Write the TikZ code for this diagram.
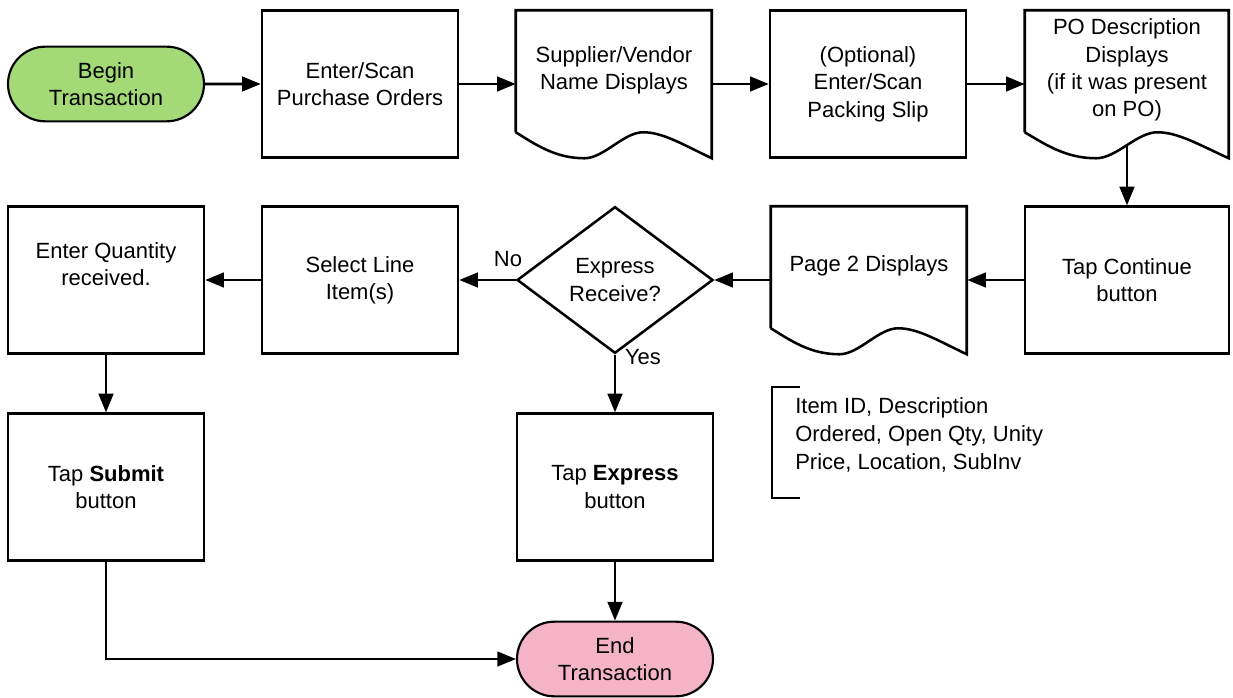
\documentclass[tikz,border=0pt]{standalone}
\usepackage{fontspec}
\setmainfont{Liberation Sans}
\usetikzlibrary{arrows.meta,shapes.geometric,shapes.misc}

\definecolor{beginfill}{HTML}{A3D977}
\definecolor{endfill}{HTML}{F4B3C7}

\tikzset{
  flowfont/.style={font=\fontsize{16.5}{20.5}\selectfont},
  procbox/.style={draw, line width=1.9pt, minimum width=147pt, minimum height=110pt, inner sep=0pt, align=center, flowfont},
  docbox/.style={minimum width=147pt, minimum height=111pt, inner sep=0pt},
  terminal/.style={draw, rounded rectangle, line width=1.6pt, minimum width=147pt, minimum height=56pt, inner sep=0pt, align=center, flowfont},
  decision/.style={draw, diamond, line width=1.9pt, minimum width=147pt, minimum height=110pt, inner sep=0pt, aspect=1.33, align=center, flowfont},
  txt/.style={align=center, inner sep=0pt, flowfont},
  lbl/.style={inner sep=0pt, flowfont},
  flow/.style={line width=1.9pt, -{Triangle[length=14pt,width=11pt]}}
}

% page outline with wavy bottom, drawn round a docbox node: #1 node, #2 width
\newcommand{\docoutline}[2]{%
  \begin{scope}[shift={(#1.south west)}]
    \draw[line width=1.9pt] (0,-26) -- (0,-148) -- (#2,-148) -- (#2,0)
      .. controls (0.85*#2,-14) and (0.75*#2,-26) .. (0.65*#2,-26)
      .. controls (0.55*#2,-26) and (0.45*#2,0) .. (0.35*#2,0)
      .. controls (0.2*#2,0) and (0.1*#2,-14) .. (0,-26);
  \end{scope}}

\begin{document}
\begin{tikzpicture}[x=0.75pt,y=0.75pt,yscale=-1,xscale=1]
\useasboundingbox (0,0) rectangle (1233,698);

% top row
\node[terminal, fill=beginfill] (begin) at (106,84) {Begin\\Transaction};
\node[procbox] (scanpo) at (360,84) {Enter/Scan\\Purchase Orders};
\node[docbox] (vendor) at (614,84) {};
\node[procbox] (slip) at (868,84) {(Optional)\\Enter/Scan\\Packing Slip};
\node[docbox, minimum width=153pt] (podesc) at (1127,84) {};
\docoutline{vendor}{196}
\docoutline{podesc}{204}
\node[txt] (vendor-t) at ([yshift=-10.5pt]vendor.center) {Supplier/Vendor\\Name Displays};
\node[txt] (podesc-t) at ([yshift=-10.5pt]podesc.center) {PO Description\\Displays\\(if it was present\\on PO)};
\coordinate (podesc-b) at (1127,145);

% middle row
\node[procbox, minimum width=153pt] (cont) at (1127,280) {Tap Continue\\button};
\node[docbox] (page) at (869,280) {};
\docoutline{page}{196}
\node[txt] (page-t) at ([yshift=-11pt]page.center) {Page 2 Displays};
\node[decision] (express) at (615,280) {Express\\Receive?};
\node[procbox] (select) at (360,280) {Select Line\\Item(s)};
\node[procbox] (qty) at (106,280) {};
\node[txt] (qty-t) at ([yshift=-12pt]qty.center) {Enter Quantity\\received.};
\node[lbl] (no) at (508,259) {No};
\node[lbl] (yes) at (643,357) {Yes};

% bottom row
\node[procbox] (submit) at (106,487) {Tap \textbf{Submit}\\button};
\node[procbox] (expbtn) at (615,487) {Tap \textbf{Express}\\button};
\node[terminal, fill=endfill] (end) at (615,659) {End\\Transaction};

% fields shown on page 2
\draw[line width=1.4pt] (800,387) -- (772,387) -- (772,498) -- (800,498);
\node[lbl, anchor=west, align=left, font=\fontsize{16.5}{21}\selectfont] (fields) at (795,435) {Item ID, Description\\Ordered, Open Qty, Unity\\Price, Location, SubInv};

% connectors
\draw[flow] (begin) -- (scanpo);
\draw[flow] (scanpo) -- (vendor);
\draw[flow] (vendor) -- (slip);
\draw[flow] (slip) -- (podesc);
\draw[flow] (podesc-b) -- (cont);
\draw[flow] (cont) -- (page);
\draw[flow] (page) -- (express);
\draw[flow] (express) -- (select);
\draw[flow] (select) -- (qty);
\draw[flow] (qty) -- (submit);
\draw[flow] (express) -- (expbtn);
\draw[flow] (expbtn) -- (end);
\draw[flow] (submit.south) |- (end.west);

\end{tikzpicture}
\end{document}
